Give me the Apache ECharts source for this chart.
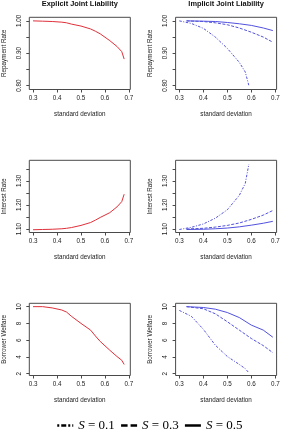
<!DOCTYPE html>
<html>
<head>
<meta charset="utf-8">
<script src="https://cdn.jsdelivr.net/npm/echarts@6/dist/echarts.min.js"></script>
<style>
  html, body { margin: 0; padding: 0; background: #fff; }
  #chart { width: 283px; height: 429px; }
</style>
</head>
<body>
<div id="chart"></div>
<script>
// ── Data ────────────────────────────────────────────────────────────────────

// explicit joint liability (red, one curve per panel)
var sdExplicit       = [0.30, 0.34, 0.38, 0.42, 0.44, 0.46, 0.50, 0.54, 0.56, 0.58, 0.62, 0.65, 0.67, 0.68];
var repayExplicit    = [1.000, 0.999, 0.998, 0.996, 0.994, 0.990, 0.984, 0.975, 0.968, 0.960, 0.939, 0.921, 0.905, 0.882];
var interestExplicit = [1.097, 1.098, 1.099, 1.101, 1.103, 1.106, 1.115, 1.127, 1.137, 1.148, 1.168, 1.192, 1.214, 1.245];
var welfareExplicit  = [10.0, 10.0, 9.85, 9.6, 9.35, 8.85, 8.0, 7.2, 6.5, 5.85, 4.8, 4.05, 3.6, 3.1];

// implicit joint liability, S = 0.1
var sdLow       = [0.30, 0.35, 0.40, 0.45, 0.50, 0.55, 0.575, 0.59];
var repayLow    = [1.000, 0.992, 0.977, 0.950, 0.915, 0.872, 0.842, 0.800];
var interestLow = [1.098, 1.107, 1.121, 1.145, 1.180, 1.240, 1.290, 1.370];
var welfareLow  = [9.55, 8.85, 7.3, 5.4, 4.05, 3.1, 2.6, 2.1];

// implicit joint liability, S = 0.3 and S = 0.5
var sdHigh       = [0.33, 0.40, 0.45, 0.50, 0.55, 0.60, 0.65, 0.69];
var repayMid     = [1.000, 0.998, 0.994, 0.988, 0.978, 0.965, 0.950, 0.934];
var repayHigh    = [1.000, 0.999, 0.998, 0.995, 0.991, 0.986, 0.978, 0.970];
var interestMid  = [1.100, 1.103, 1.108, 1.115, 1.125, 1.140, 1.158, 1.177];
var interestHigh = [1.098, 1.099, 1.101, 1.104, 1.109, 1.116, 1.124, 1.132];
var welfareMid   = [10.0, 9.75, 9.15, 8.2, 7.2, 6.2, 5.35, 4.5];
var welfareHigh  = [10.0, 9.9, 9.7, 9.3, 8.7, 7.8, 7.2, 6.35];

// ticks and labels
var sdTicks        = [0.3, 0.4, 0.5, 0.6, 0.7];
var repayTicks     = [0.80, 0.85, 0.90, 0.95, 1.00];
var repayLabels    = [0.80, 0.90, 1.00];
var interestTicks  = [1.10, 1.15, 1.20, 1.25, 1.30, 1.35];
var interestLabels = [1.10, 1.20, 1.30];
var welfareTicks   = [2, 4, 6, 8, 10];
var sLevels        = ['S = 0.1', 'S = 0.3', 'S = 0.5'];
var panelTitles    = ['Explicit Joint Liability', 'Implicit Joint Liability'];

// ── Style ───────────────────────────────────────────────────────────────────

var FONT = 'Liberation Sans';
var AXIS_COLOR = '#4a4a4a';
var TEXT_COLOR = '#222';
var RED = '#e0303a';
var BLUE = '#5252de';
var DASH = { 'S = 0.1': [2.5, 1.5, 1, 1.5], 'S = 0.3': [3, 1.5], 'S = 0.5': 'solid' };
var LEGEND_DASH = { 'S = 0.1': [2, 2, 5, 2], 'S = 0.3': [6.5, 3], 'S = 0.5': 'solid' };

var rows = [
  { name: 'Repayment Rate', min: 0.788, max: 1.011, ticks: repayTicks, labels: repayLabels, digits: 2,
    explicit: repayExplicit, implicit: [repayLow, repayMid, repayHigh] },
  { name: 'Interest Rate', min: 1.0855, max: 1.386, ticks: interestTicks, labels: interestLabels, digits: 2,
    explicit: interestExplicit, implicit: [interestLow, interestMid, interestHigh] },
  { name: 'Borrower Welfare', min: 1.78, max: 10.4, ticks: welfareTicks, labels: welfareTicks, digits: 0,
    explicit: welfareExplicit, implicit: [welfareLow, welfareMid, welfareHigh] }
];

function zip(xs, ys) {
  return xs.map(function (x, i) { return [x, ys[i]]; });
}

var grids = [], xAxes = [], yAxes = [], series = [];

rows.forEach(function (row, r) {
  [0, 1].forEach(function (c) {
    var idx = grids.length;
    grids.push({
      left: c === 0 ? 29.3 : 175.6,
      top: 17.3 + 143 * r,
      width: 101,
      height: 72.2,
      show: true,
      borderColor: AXIS_COLOR,
      borderWidth: 1,
      backgroundColor: 'transparent'
    });
    xAxes.push({
      type: 'value',
      gridIndex: idx,
      min: 0.2844,
      max: 0.7056,
      name: 'standard deviation',
      nameLocation: 'middle',
      nameGap: 22,
      nameTextStyle: { fontFamily: FONT, fontSize: 6.3, color: TEXT_COLOR },
      axisLine: { show: false },
      axisTick: { show: true, inside: false, length: 3, customValues: sdTicks, lineStyle: { color: AXIS_COLOR } },
      axisLabel: {
        customValues: sdTicks, margin: 6, fontFamily: FONT, fontSize: 6.3, color: TEXT_COLOR,
        formatter: function (v) { return v.toFixed(1); }
      },
      splitLine: { show: false }
    });
    yAxes.push({
      type: 'value',
      gridIndex: idx,
      min: row.min,
      max: row.max,
      name: row.name,
      nameLocation: 'middle',
      nameRotate: 90,
      nameGap: 22,
      nameTextStyle: { fontFamily: FONT, fontSize: 6.3, color: TEXT_COLOR },
      axisLine: { show: false },
      axisTick: { show: true, inside: false, length: 3, customValues: row.ticks, lineStyle: { color: AXIS_COLOR } },
      axisLabel: {
        customValues: row.labels, rotate: 90, margin: 7, fontFamily: FONT, fontSize: 6.3, color: TEXT_COLOR,
        formatter: function (v) { return v.toFixed(row.digits); }
      },
      splitLine: { show: false }
    });

    if (c === 0) {
      series.push({
        name: 'explicit',
        type: 'line',
        xAxisIndex: idx,
        yAxisIndex: idx,
        data: zip(sdExplicit, row.explicit),
        symbol: 'none',
        silent: true,
        lineStyle: { color: RED, width: 1 }
      });
    } else {
      row.implicit.forEach(function (vals, k) {
        series.push({
          name: sLevels[k],
          type: 'line',
          xAxisIndex: idx,
          yAxisIndex: idx,
          data: zip(k === 0 ? sdLow : sdHigh, vals),
          symbol: 'none',
          silent: true,
          lineStyle: { color: BLUE, width: 1, type: DASH[sLevels[k]] }
        });
      });
    }
  });
});

var chart = echarts.init(document.getElementById('chart'), null, { renderer: 'canvas' });

chart.setOption({
  animation: false,
  backgroundColor: '#fff',
  title: panelTitles.map(function (t, i) {
    return {
      text: t,
      left: i === 0 ? 79.8 : 226.1,
      top: 0.5,
      textAlign: 'center',
      padding: 0,
      textStyle: { fontFamily: FONT, fontSize: 7.4, fontWeight: 'bold', color: '#111' }
    };
  }),
  legend: {
    left: 51,
    top: 414,
    itemWidth: 16,
    itemHeight: 14,
    itemGap: 5,
    selectedMode: false,
    itemStyle: { opacity: 0 },
    data: sLevels.map(function (s) {
      return { name: s, lineStyle: { color: '#000', width: 2.5, type: LEGEND_DASH[s] } };
    }),
    formatter: function (name) { return '{i|S} = ' + name.split('= ')[1]; },
    textStyle: {
      fontFamily: 'Liberation Serif', fontSize: 13, color: '#000',
      rich: { i: { fontFamily: 'Liberation Serif', fontStyle: 'italic', fontSize: 13, color: '#000' } }
    }
  },
  grid: grids,
  xAxis: xAxes,
  yAxis: yAxes,
  series: series
});
</script>
</body>
</html>
